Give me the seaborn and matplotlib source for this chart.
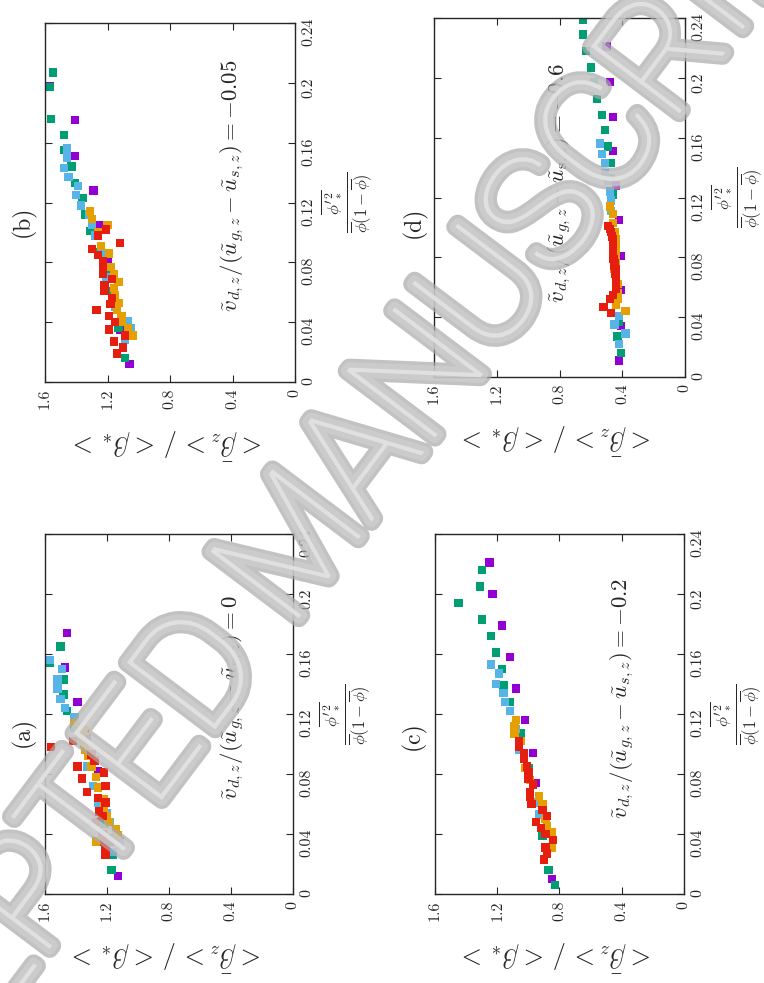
import matplotlib
matplotlib.use("Agg")
import matplotlib.pyplot as plt
import matplotlib.patheffects as pe
import pandas as pd
import seaborn as sns

# colours (gnuplot defaults) drawn in this order
series_names = ["s1", "s2", "s3", "s4", "s5"]
series_colors = ["#9400D3", "#009E73", "#56B4E9", "#E69F00", "#E51E10"]

# ---- panel (a): v/(ug-us) = 0
a_purple_phi = [0.174, 0.151, 0.128, 0.104, 0.082, 0.035, 0.012]
a_purple_beta = [1.46, 1.47, 1.39, 1.33, 1.26, 1.18, 1.13]
a_green_phi = [0.165, 0.154, 0.143, 0.133, 0.122, 0.111, 0.047, 0.037, 0.026, 0.016]
a_green_beta = [1.50, 1.57, 1.48, 1.48, 1.46, 1.41, 1.22, 1.19, 1.16, 1.17]
a_blue_phi = [0.156, 0.150, 0.143, 0.137, 0.130, 0.124, 0.118, 0.111, 0.105,
              0.085, 0.072, 0.061, 0.054, 0.048, 0.041, 0.035, 0.028]
a_blue_beta = [1.57, 1.49, 1.52, 1.52, 1.50, 1.47, 1.41, 1.39, 1.37,
               1.33, 1.29, 1.26, 1.20, 1.18, 1.14, 1.12, 1.16]
a_orange_phi = [0.114, 0.109, 0.107, 0.103, 0.100, 0.096, 0.092, 0.085, 0.078,
                0.071, 0.063, 0.057, 0.052, 0.048, 0.043, 0.039, 0.035]
a_orange_beta = [1.41, 1.34, 1.38, 1.36, 1.35, 1.34, 1.32, 1.30, 1.27,
                 1.26, 1.22, 1.22, 1.20, 1.19, 1.14, 1.13, 1.27]
a_red_phi = [0.098, 0.102, 0.093, 0.089, 0.081, 0.085, 0.077, 0.072, 0.068,
             0.064, 0.061, 0.055, 0.052, 0.048, 0.040, 0.035, 0.031, 0.026]
a_red_beta = [1.56, 1.42, 1.30, 1.28, 1.22, 1.39, 1.36, 1.21, 1.33,
              1.26, 1.21, 1.25, 1.23, 1.27, 1.23, 1.22, 1.21, 1.21]

# ---- panel (b): v/(ug-us) = -0.05
b_purple_phi = [0.198, 0.175, 0.151, 0.128, 0.105, 0.082, 0.035, 0.012]
b_purple_beta = [1.57, 1.41, 1.41, 1.29, 1.25, 1.20, 1.12, 1.06]
b_green_phi = [0.207, 0.197, 0.176, 0.165, 0.155, 0.144, 0.133, 0.123, 0.112,
               0.101, 0.087, 0.074, 0.061, 0.036, 0.016]
b_green_beta = [1.55, 1.57, 1.56, 1.48, 1.48, 1.43, 1.41, 1.36, 1.34,
                1.31, 1.26, 1.21, 1.17, 1.13, 1.09]
b_blue_phi = [0.156, 0.150, 0.143, 0.137, 0.131, 0.125, 0.118, 0.112, 0.105,
              0.098, 0.086, 0.070, 0.050, 0.041, 0.036, 0.028]
b_blue_beta = [1.46, 1.46, 1.48, 1.45, 1.39, 1.40, 1.37, 1.32, 1.30,
               1.28, 1.24, 1.21, 1.15, 1.07, 1.05, 1.09]
b_orange_phi = [0.114, 0.109, 0.105, 0.100, 0.091, 0.086, 0.077, 0.072, 0.067,
                0.063, 0.058, 0.053, 0.048, 0.044, 0.040, 0.036, 0.031]
b_orange_beta = [1.31, 1.30, 1.20, 1.26, 1.24, 1.19, 1.18, 1.16, 1.13,
                 1.16, 1.15, 1.13, 1.14, 1.11, 1.11, 1.07, 1.04]
b_red_phi = [0.102, 0.098, 0.093, 0.089, 0.085, 0.081, 0.076, 0.072, 0.069, 0.065,
             0.061, 0.056, 0.052, 0.048, 0.044, 0.040, 0.035, 0.031, 0.027, 0.023, 0.019]
b_red_beta = [1.21, 1.26, 1.12, 1.30, 1.26, 1.23, 1.23, 1.23, 1.17, 1.22,
              1.22, 1.17, 1.18, 1.27, 1.19, 1.15, 1.19, 1.09, 1.16, 1.10, 1.14]

# ---- panel (c): v/(ug-us) = -0.2
c_purple_phi = [0.221, 0.200, 0.179, 0.158, 0.137, 0.116, 0.094, 0.074, 0.010]
c_purple_beta = [1.25, 1.23, 1.17, 1.12, 1.08, 1.02, 0.97, 0.95, 0.85]
c_green_phi = [0.216, 0.205, 0.194, 0.183, 0.172, 0.161, 0.150, 0.139, 0.128,
               0.107, 0.084, 0.039, 0.016, 0.006]
c_green_beta = [1.30, 1.31, 1.45, 1.30, 1.24, 1.21, 1.17, 1.16, 1.12,
                1.05, 1.00, 0.91, 0.87, 0.83]
c_blue_phi = [0.153, 0.147, 0.140, 0.134, 0.128, 0.122, 0.110, 0.096, 0.061, 0.053, 0.028]
c_blue_beta = [1.24, 1.19, 1.21, 1.16, 1.15, 1.12, 1.08, 1.06, 0.95, 0.93, 0.88]
c_orange_phi = [0.116, 0.112, 0.107, 0.102, 0.092, 0.084, 0.076, 0.065, 0.060,
                0.050, 0.045, 0.041, 0.031]
c_orange_beta = [1.08, 1.09, 1.09, 1.05, 1.03, 1.02, 0.99, 0.93, 0.91,
                 0.89, 0.88, 0.85, 0.85]
c_red_phi = [0.102, 0.098, 0.094, 0.090, 0.085, 0.081, 0.077, 0.073, 0.068, 0.065,
             0.060, 0.056, 0.052, 0.048, 0.044, 0.040, 0.036, 0.031, 0.027, 0.023]
c_red_beta = [1.06, 1.06, 1.03, 1.03, 1.01, 1.00, 1.00, 0.97, 0.99, 0.99,
              0.98, 0.91, 0.88, 0.95, 0.92, 0.89, 0.84, 0.89, 0.88, 0.90]

# ---- panel (d): v/(ug-us) = -0.6
d_purple_phi = [0.221, 0.197, 0.174, 0.151, 0.128, 0.105, 0.081, 0.058, 0.034, 0.011]
d_purple_beta = [0.50, 0.48, 0.46, 0.46, 0.44, 0.42, 0.41, 0.41, 0.41, 0.42]
d_green_phi = [0.239, 0.229, 0.218, 0.207, 0.197, 0.186, 0.175, 0.165, 0.154,
               0.143, 0.133, 0.122, 0.037, 0.027, 0.016]
d_green_beta = [0.65, 0.65, 0.63, 0.60, 0.58, 0.56, 0.53, 0.51, 0.49,
                0.47, 0.47, 0.46, 0.42, 0.43, 0.41]
d_blue_phi = [0.156, 0.149, 0.143, 0.136, 0.131, 0.124, 0.118, 0.111, 0.041, 0.035, 0.029, 0.022]
d_blue_beta = [0.54, 0.53, 0.51, 0.51, 0.49, 0.48, 0.47, 0.47, 0.42, 0.45, 0.38, 0.42]
d_orange_phi = [0.114, 0.109, 0.103, 0.097, 0.092, 0.087, 0.082, 0.076, 0.072,
                0.067, 0.062, 0.056, 0.052, 0.048, 0.044]
d_orange_beta = [0.48, 0.46, 0.46, 0.45, 0.44, 0.44, 0.44, 0.44, 0.45,
                 0.44, 0.43, 0.43, 0.43, 0.44, 0.38]
d_red_phi = [0.101, 0.099, 0.097, 0.094, 0.092, 0.089, 0.086, 0.084, 0.081, 0.079, 0.076,
             0.074, 0.072, 0.069, 0.067, 0.063, 0.059, 0.055, 0.052, 0.047, 0.043]
d_red_beta = [0.49, 0.48, 0.47, 0.465, 0.46, 0.46, 0.46, 0.46, 0.46, 0.455, 0.45,
              0.45, 0.44, 0.445, 0.44, 0.44, 0.44, 0.46, 0.48, 0.52, 0.47]

panel_tags = ["(a)", "(b)", "(c)", "(d)"]
panel_notes = [
    r"$\tilde{v}_{d,z}/(\tilde{u}_{g,z}-\tilde{u}_{\mathrm{s},z})=0$",
    r"$\tilde{v}_{d,z}/(\tilde{u}_{g,z}-\tilde{u}_{s,z})=-0.05$",
    r"$\tilde{v}_{d,z}/(\tilde{u}_{g,z}-\tilde{u}_{s,z})=-0.2$",
    r"$\tilde{v}_{d,z}/(\tilde{u}_{g,z}-\tilde{u}_{\mathrm{s},z})=-0.6$",
]
beta_ticks = [0, 0.4, 0.8, 1.2, 1.6]
beta_labels = ["0", "0.4", "0.8", "1.2", "1.6"]
phi_ticks = [0, 0.04, 0.08, 0.12, 0.16, 0.2, 0.24]
phi_labels = ["0", "0.04", "0.08", "0.12", "0.16", "0.2", "0.24"]

beta_label = r"$<\bar{\beta}_z>\,/\,<\beta_*>$"
phi_label = r"$\frac{\overline{\phi'^{2}_{*}}}{\overline{\phi}(1-\overline{\phi})}$"


def panel_frame(groups):
    rows = []
    for name, (phi, beta) in zip(series_names, groups):
        rows.append(pd.DataFrame({"phi": phi, "beta": beta, "series": name}))
    return pd.concat(rows, ignore_index=True)


panel_data = [
    panel_frame([(a_purple_phi, a_purple_beta), (a_green_phi, a_green_beta),
                 (a_blue_phi, a_blue_beta), (a_orange_phi, a_orange_beta),
                 (a_red_phi, a_red_beta)]),
    panel_frame([(b_purple_phi, b_purple_beta), (b_green_phi, b_green_beta),
                 (b_blue_phi, b_blue_beta), (b_orange_phi, b_orange_beta),
                 (b_red_phi, b_red_beta)]),
    panel_frame([(c_purple_phi, c_purple_beta), (c_green_phi, c_green_beta),
                 (c_blue_phi, c_blue_beta), (c_orange_phi, c_orange_beta),
                 (c_red_phi, c_red_beta)]),
    panel_frame([(d_purple_phi, d_purple_beta), (d_green_phi, d_green_beta),
                 (d_blue_phi, d_blue_beta), (d_orange_phi, d_orange_beta),
                 (d_red_phi, d_red_beta)]),
]

sns.set_style("ticks")
plt.rcParams["font.family"] = ["cmr10", "DejaVu Serif"]
plt.rcParams["mathtext.fontset"] = "cm"
plt.rcParams["axes.formatter.use_mathtext"] = True

W, H = 764, 983
fig = plt.figure(figsize=(W / 100, H / 100), dpi=100)

# page is rotated: axes boxes in pixels (left, top, right, bottom)
boxes = [(45, 534, 293, 894), (45, 23, 295, 382), (435, 534, 684, 894), (434, 18, 685, 377)]
note_pos = [(0.754, 0.544), (0.748, 0.546), (0.751, 0.544), (0.498, 0.54)]
tag_pos = [(-0.089, 0.45), (-0.089, 0.448), (-0.088, 0.44), (-0.08, 0.43)]

for i, (l, t, r, b) in enumerate(boxes):
    ax = fig.add_axes([l / W, 1 - b / H, (r - l) / W, (b - t) / H])
    sns.scatterplot(data=panel_data[i], x="beta", y="phi", hue="series",
                    palette=series_colors, hue_order=series_names, marker="s",
                    s=36, linewidth=0, legend=False, ax=ax)
    ax.set_xlim(1.6, 0)
    ax.set_ylim(0, 0.24)
    ax.set_xticks(beta_ticks)
    ax.set_xticklabels(beta_labels)
    ax.set_yticks(phi_ticks)
    ax.set_yticklabels(phi_labels)
    ax.yaxis.tick_right()
    ax.yaxis.set_label_position("right")
    ax.tick_params(direction="in", length=5, width=0.8, top=True, bottom=True,
                   left=True, right=True, labelleft=False, labelright=True,
                   labelsize=11.5, pad=5)
    ax.tick_params(axis="x", labelrotation=90)
    ax.tick_params(axis="y", labelrotation=90)
    for sp in ax.spines.values():
        sp.set_linewidth(1.0)
    ax.set_xlabel(beta_label, rotation=180, fontsize=19, labelpad=12)
    ax.set_ylabel(phi_label, rotation=90, fontsize=17, labelpad=3)
    ax.text(*note_pos[i], panel_notes[i], transform=ax.transAxes, rotation=90,
            ha="center", va="center", fontsize=16.5)
    ax.text(*tag_pos[i], panel_tags[i], transform=ax.transAxes, rotation=90,
            ha="center", va="center", fontsize=17)

# watermark of the accepted-manuscript page
fig.text(0.399, 0.451, "ACCEPTED MANUSCRIPT", rotation=53, ha="center", va="center",
         fontsize=112, family="Roboto", fontweight=100, color="#e6e6e6", alpha=0.7,
         zorder=20,
         path_effects=[pe.Stroke(linewidth=13, foreground="#a8a8a8"),
                       pe.Stroke(linewidth=8, foreground="#d0d0d0"),
                       pe.Normal()])

fig.savefig("out.png", dpi=100)
